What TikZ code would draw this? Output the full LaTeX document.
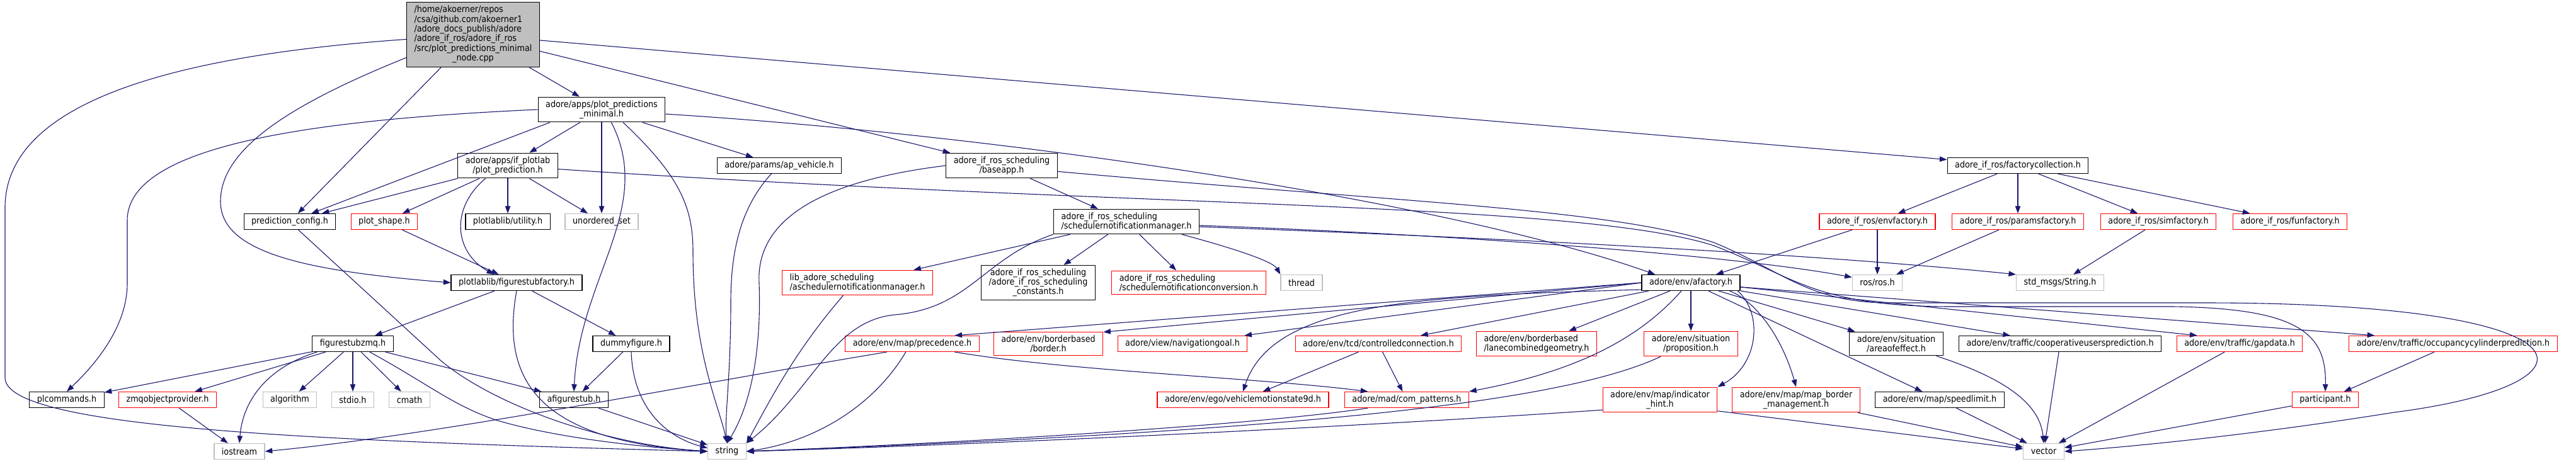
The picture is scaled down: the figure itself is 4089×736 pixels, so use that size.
\documentclass[tikz,border=0pt]{standalone}
\usepackage{fontspec}
\setmainfont{DejaVu Sans}[FakeStretch=0.9]
\usetikzlibrary{arrows.meta}
\definecolor{edgeblue}{HTML}{191970}
\definecolor{sysgray}{HTML}{BFBFBF}
\definecolor{rootgray}{HTML}{BFBFBF}
\definecolor{linkred}{HTML}{FF0000}
\newcommand{\hdrfont}{\fontsize{7.1}{7.6}\selectfont}

\begin{document}
\begin{tikzpicture}[
    x=0.5pt, y=-0.5pt,
    hdr/.style={draw=black, fill=white, line width=0.6pt,
                inner xsep=6pt, inner ysep=2.6pt, minimum height=12.5pt,
                align=center, font=\hdrfont},
    hdrroot/.style={hdr, fill=rootgray},
    hdrred/.style={hdr, draw=linkred},
    hdrsys/.style={hdr, draw=sysgray},
    dep/.style={draw=edgeblue, line width=0.55pt,
                -{Triangle[length=5.8pt,width=4.2pt]}}
  ]
    \useasboundingbox (0,0) rectangle (4089,736);

    \node[hdrroot] (root) at (751,55)
      {\begin{tabular}{@{}l@{}}/home/akoerner/repos\\/csa/github.com/akoerner1\\
       /adore\_docs\_publish/adore\\/adore\_if\_ros/adore\_if\_ros\\
       /src/plot\_predictions\_minimal\\\multicolumn{1}{@{}c@{}}{\_node.cpp}\end{tabular}};

    \node[hdr] (apm)   at (955,174)  {adore/apps/plot\_predictions\\\_minimal.h};

    \node[hdr] (ifp)   at (806,263)  {adore/apps/if\_plotlab\\/plot\_prediction.h};
    \node[hdr] (apveh) at (1237,263) {adore/params/ap\_vehicle.h};
    \node[hdr] (base)  at (1590,263) {adore\_if\_ros\_scheduling\\/baseapp.h};
    \node[hdr] (fcoll) at (3203,263) {adore\_if\_ros/factorycollection.h};

    \node[hdr]    (pconf)  at (460,352)  {prediction\_config.h};
    \node[hdrred] (pshape) at (610,352)  {plot\_shape.h};
    \node[hdr]    (util)   at (806,352)  {plotlablib/utility.h};
    \node[hdrsys] (uset)   at (955,352)  {unordered\_set};
    \node[hdr, align=left] (snm) at (1788,352)
      {adore\_if\_ros\_scheduling\\/schedulernotificationmanager.h};
    \node[hdrred] (envf) at (2980,352) {adore\_if\_ros/envfactory.h};
    \node[hdrred] (parf) at (3203,352) {adore\_if\_ros/paramsfactory.h};
    \node[hdrred] (simf) at (3426,352) {adore\_if\_ros/simfactory.h};
    \node[hdrred] (funf) at (3635,352) {adore\_if\_ros/funfactory.h};

    \node[hdr] (fsf) at (820,449) {plotlablib/figurestubfactory.h};
    \node[hdrred, align=left] (asnm) at (1361,449)
      {lib\_adore\_scheduling\\/aschedulernotificationmanager.h};
    \node[hdr] (consts) at (1648,449)
      {adore\_if\_ros\_scheduling\\/adore\_if\_ros\_scheduling\\\_constants.h};
    \node[hdrred, align=left] (conv) at (1887,449)
      {adore\_if\_ros\_scheduling\\/schedulernotificationconversion.h};
    \node[hdrsys] (thread) at (2066,449) {thread};
    \node[hdr]    (afac)   at (2684,449) {adore/env/afactory.h};
    \node[hdrsys] (ros)    at (2980,449) {ros/ros.h};
    \node[hdrsys] (stdstr) at (3270,449) {std\_msgs/String.h};

    \node[hdr]    (fzmq)    at (560,546)  {figurestubzmq.h};
    \node[hdr]    (dummy)   at (1002,546) {dummyfigure.h};
    \node[hdrred] (prec)    at (1448,546) {adore/env/map/precedence.h};
    \node[hdrred] (border)  at (1664,546) {adore/env/borderbased\\/border.h};
    \node[hdrred] (navgoal) at (1877,546) {adore/view/navigationgoal.h};
    \node[hdrred] (ctrl)    at (2188,546) {adore/env/tcd/controlledconnection.h};
    \node[hdrred, align=left] (lanecomb) at (2439,546)
      {adore/env/borderbased\\/lanecombinedgeometry.h};
    \node[hdrred] (prop) at (2684,546) {adore/env/situation\\/proposition.h};
    \node[hdr]    (aoe)  at (3010,546) {adore/env/situation\\/areaofeffect.h};
    \node[hdr]    (coop) at (3270,546) {adore/env/traffic/cooperativeusersprediction.h};
    \node[hdrred] (gap)  at (3555,546) {adore/env/traffic/gapdata.h};
    \node[hdrred] (occ)  at (3894,546) {adore/env/traffic/occupancycylinderprediction.h};

    \node[hdr]    (plcmd) at (106,635)  {plcommands.h};
    \node[hdrred] (zmqop) at (266,635)  {zmqobjectprovider.h};
    \node[hdrsys] (algo)  at (460,635)  {algorithm};
    \node[hdrsys] (stdio) at (560,635)  {stdio.h};
    \node[hdrsys] (cmath) at (650,635)  {cmath};
    \node[hdr]    (afig)  at (911,635)  {afigurestub.h};
    \node[hdrred] (vms)   at (1973,635) {adore/env/ego/vehiclemotionstate9d.h};
    \node[hdrred] (comp)  at (2233,635) {adore/mad/com\_patterns.h};
    \node[hdrred] (indh)  at (2635,635) {adore/env/map/indicator\\\_hint.h};
    \node[hdrred] (mapbm) at (2851,635) {adore/env/map/map\_border\\\_management.h};
    \node[hdr]    (speed) at (3079,635) {adore/env/map/speedlimit.h};
    \node[hdrred] (part)  at (3691,635) {participant.h};

    \node[hdrsys] (iostr)  at (380,717)  {iostream};
    \node[hdrsys] (string) at (1154,717) {string};
    \node[hdrsys] (vector) at (3244,717) {vector};

    % root file
    \draw[dep] (root) -- (apm);
    \draw[dep] (root) -- (pconf);
    \draw[dep] (root) -- (base);
    \draw[dep] (root) -- (fcoll);
    \draw[dep] (root.199) .. controls (450,170) and (350,240) .. (350,320)
      .. controls (350,400) and (480,430) .. (fsf.west);
    \draw[dep] (root.184) .. controls (250,90) and (8,170) .. (8,330) -- (8,600)
      .. controls (8,680) and (500,700) .. (string.west);

    % plot_predictions_minimal.h
    \draw[dep] (apm.west) .. controls (500,190) and (202,230) .. (202,350) -- (202,450)
      .. controls (202,520) and (150,580) .. (plcmd.north);
    \draw[dep] (apm.194) -- (pconf);
    \draw[dep] (apm) -- (ifp);
    \draw[dep] (apm) -- (uset);
    \draw[dep] (apm) -- (apveh);
    \draw[dep] (apm.-53) .. controls (1040,330) and (920,440) .. (afig.north);
    \draw[dep] (apm.-31) .. controls (1080,280) and (1100,330) .. (1100,400)
      .. controls (1100,560) and (1140,640) .. (string.north);
    \draw[dep] (apm.-4) .. controls (1600,215) and (2300,320) .. (afac.167);

    % plot_prediction.h
    \draw[dep] (ifp) -- (pconf);
    \draw[dep] (ifp) -- (pshape);
    \draw[dep] (ifp.-150) .. controls (715,330) and (720,400) .. (fsf.160);
    \draw[dep] (ifp) -- (util);
    \draw[dep] (ifp) -- (uset);
    \draw[dep] (ifp.-4) .. controls (1800,330) and (2500,320) .. (2720,390)
      .. controls (2850,440) and (2880,487) .. (3100,487) -- (3450,487)
      .. controls (3650,490) and (3693,530) .. (part.north);

    % baseapp.h and scheduling
    \draw[dep] (base) -- (snm);
    \draw[dep] (base.west) .. controls (1280,290) and (1200,360) .. (1205,450)
      .. controls (1210,600) and (1175,670) .. (string.north);
    \draw[dep] (base.-6) .. controls (2200,320) and (2550,330) .. (2720,385)
      .. controls (2830,430) and (2870,481) .. (3000,481) -- (3500,481)
      .. controls (4130,481) and (4150,610) .. (3800,655)
      .. controls (3550,695) and (3350,712) .. (vector.east);
    \draw[dep] (snm) -- (asnm);
    \draw[dep] (snm.south west) .. controls (1560,410) and (1540,490) .. (1420,500)
      .. controls (1320,510) and (1290,620) .. (string.north east);
    \draw[dep] (snm) -- (consts);
    \draw[dep] (snm) -- (conv);
    \draw[dep] (snm.-13) .. controls (1960,395) and (2020,415) .. (thread.north west);
    \draw[dep] (snm.-3) .. controls (2300,372) and (2750,405) .. (ros.168);
    \draw[dep] (snm.-4) .. controls (2300,375) and (2850,400) .. (stdstr.north west);
    \draw[dep] (asnm.-138) .. controls (1260,560) and (1220,640) .. (string.north east);

    % plotlab
    \draw[dep] (pshape) -- (fsf);
    \draw[dep] (pconf.-44) -- (700,573) .. controls (780,640) and (950,705) .. (string.west);
    \draw[dep] (fsf) -- (fzmq);
    \draw[dep] (fsf) -- (dummy);
    \draw[dep] (fsf.south) .. controls (795,600) and (850,700) .. (string.west);
    \draw[dep] (fzmq) -- (plcmd);
    \draw[dep] (fzmq) -- (zmqop);
    \draw[dep] (fzmq.193) .. controls (420,585) and (385,640) .. (iostr.north);
    \draw[dep] (fzmq) -- (algo);
    \draw[dep] (fzmq) -- (stdio);
    \draw[dep] (fzmq) -- (cmath);
    \draw[dep] (fzmq) -- (afig);
    \draw[dep] (fzmq.-26) .. controls (680,610) and (720,645) .. (790,668)
      .. controls (900,700) and (1050,712) .. (string.west);
    \draw[dep] (zmqop) -- (iostr);
    \draw[dep] (dummy) -- (afig);
    \draw[dep] (dummy.south) .. controls (1005,650) and (1060,695) .. (string.170);
    \draw[dep] (afig) -- (string);
    \draw[dep] (apveh.-134) .. controls (1175,330) and (1160,400) .. (1160,480)
      .. controls (1160,600) and (1150,660) .. (string.north);

    % afactory.h
    \draw[dep] (afac.west) -- (prec.11);
    \draw[dep] (afac.west) -- (border.12);
    \draw[dep] (afac.west) -- (navgoal);
    \draw[dep] (afac.188) .. controls (2250,470) and (2020,480) .. (vms.north);
    \draw[dep] (afac) -- (ctrl);
    \draw[dep] (afac) -- (lanecomb);
    \draw[dep] (afac.-139) .. controls (2600,540) and (2500,590) .. (comp.north east);
    \draw[dep] (afac) -- (prop);
    \draw[dep] (afac.-10) .. controls (2800,500) and (2790,580) .. (indh.north east);
    \draw[dep] (afac.-12) .. controls (2790,480) and (2830,540) .. (mapbm.north);
    \draw[dep] (afac) -- (speed);
    \draw[dep] (afac) -- (aoe);
    \draw[dep] (afac) -- (coop);
    \draw[dep] (afac.-5) -- (gap.169);
    \draw[dep] (afac.-5) -- (occ.174);

    % env headers
    \draw[dep] (prec.-162) .. controls (1100,610) and (700,690) .. (iostr.east);
    \draw[dep] (prec.-128) .. controls (1390,640) and (1300,700) .. (string.east);
    \draw[dep] (prec.-11) .. controls (1700,590) and (2000,600) .. (comp.168);
    \draw[dep] (ctrl) -- (vms);
    \draw[dep] (ctrl) -- (comp);
    \draw[dep] (comp.-168) .. controls (2000,675) and (1500,705) .. (string.east);
    \draw[dep] (prop.-157) .. controls (2480,640) and (2050,685) .. (string.east);
    \draw[dep] (indh.190) .. controls (2200,675) and (1600,705) .. (string.east);
    \draw[dep] (indh.-11) -- (vector);
    \draw[dep] (mapbm) -- (vector);
    \draw[dep] (speed) -- (vector);
    \draw[dep] (aoe.-17) .. controls (3180,600) and (3238,640) .. (vector.north);
    \draw[dep] (coop) -- (vector);
    \draw[dep] (gap) -- (vector);
    \draw[dep] (part) -- (vector);
    \draw[dep] (occ) -- (part);

    % factories
    \draw[dep] (fcoll) -- (envf);
    \draw[dep] (fcoll) -- (parf);
    \draw[dep] (fcoll) -- (simf);
    \draw[dep] (fcoll) -- (funf);
    \draw[dep] (envf) -- (afac);
    \draw[dep] (envf) -- (ros);
    \draw[dep] (parf) -- (ros);
    \draw[dep] (simf) -- (stdstr);
  \end{tikzpicture}
\end{document}
